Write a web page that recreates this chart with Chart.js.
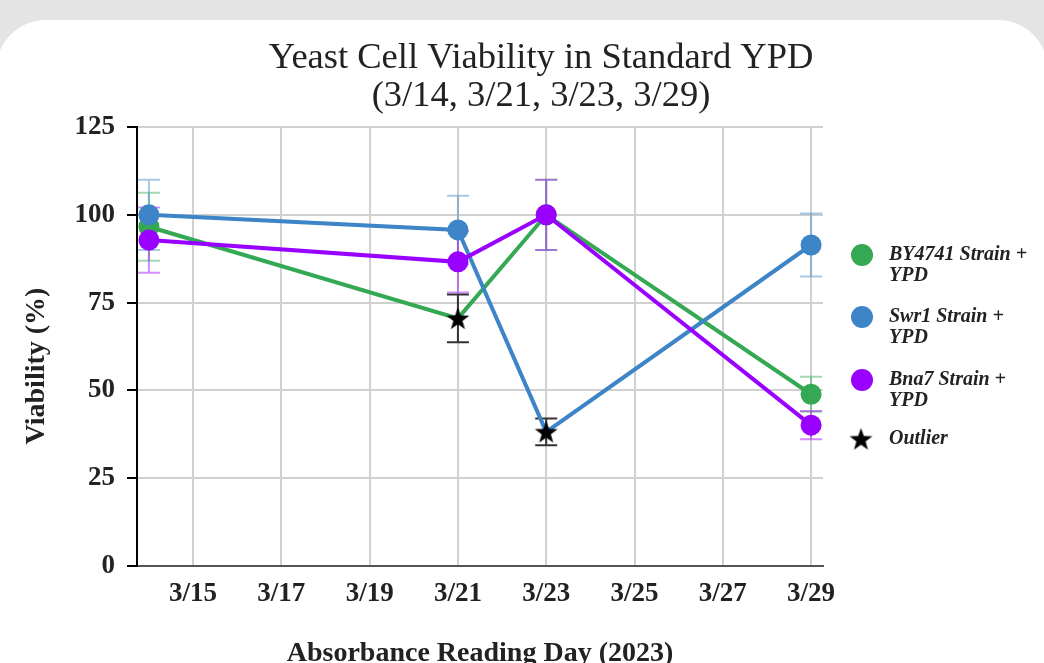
<!DOCTYPE html>
<html>
<head>
<meta charset="utf-8">
<script src="https://cdn.jsdelivr.net/npm/chart.js@4.4.1/dist/chart.umd.min.js"></script>
<style>
  html, body { margin: 0; padding: 0; background: #e4e4e4; overflow: hidden; }
  #card { position: absolute; left: -4px; top: 20px; width: 1052px; height: 720px; background: #fff; border-radius: 50px; }
  #chart { position: absolute; left: 0; top: 0; }
</style>
</head>
<body>
<div id="card"></div>
<canvas id="chart" width="1044" height="672"></canvas>
<script>
// reading days (March 2023)
const days = [14, 21, 23, 29];
const dayTicks = [15, 17, 19, 21, 23, 25, 27, 29];
const yTicks = [0, 25, 50, 75, 100, 125];

// viability (%) and error
const by4741 = [96.6, 70.5, 100, 48.9];
const by4741Err = [9.7, 6.8, 10, 5];
const swr1 = [100, 95.7, 38.2, 91.4];
const swr1Err = [10, 9.7, 3.8, 9];
const bna7 = [92.8, 86.6, 100, 40.1];
const bna7Err = [9.3, 8.7, 10, 4];

// which points are outliers
const by4741Out = [false, true, false, false];
const swr1Out = [false, false, true, false];
const bna7Out = [false, false, false, false];

const labels = [['BY4741 Strain +', 'YPD'], ['Swr1 Strain +', 'YPD'], ['Bna7 Strain +', 'YPD']];

const GREEN = '#34a853', BLUE = '#3d85c6', PURPLE = '#9900ff';
const FONT = "'Liberation Serif', 'Times New Roman', serif";

// filled star used for outliers
function makeStar(size, color) {
    const c = document.createElement('canvas');
    c.width = size; c.height = size;
    const g = c.getContext('2d');
    const cx = size / 2, cy = size / 2 + 1, ro = size / 2 - 0.5, ri = ro * 0.4;
    g.beginPath();
    for (let i = 0; i < 10; i++) {
        const r = i % 2 ? ri : ro;
        const a = -Math.PI / 2 + i * Math.PI / 5;
        g.lineTo(cx + r * Math.cos(a), cy + r * Math.sin(a));
    }
    g.closePath();
    g.fillStyle = color;
    g.fill();
    return c;
}
const star = makeStar(25, '#000');

const series = [
    { vals: by4741, err: by4741Err, out: by4741Out, color: GREEN, light: 'rgba(52,168,83,0.45)', order: 3 },
    { vals: swr1, err: swr1Err, out: swr1Out, color: BLUE, light: 'rgba(61,133,198,0.45)', order: 2 },
    { vals: bna7, err: bna7Err, out: bna7Out, color: PURPLE, light: 'rgba(153,0,255,0.45)', order: 1 }
];

const datasets = series.map((s, k) => ({
    label: labels[k].join(' '),
    data: s.vals.map((v, i) => ({ x: days[i], y: v })),
    borderColor: s.color,
    backgroundColor: s.color,
    borderWidth: 4,
    pointRadius: 10.5,
    pointBorderWidth: 0,
    pointStyle: s.out.map(o => o ? star : 'circle'),
    order: s.order,
    tension: 0
}));

const errorBars = {
    id: 'errorBars',
    beforeDatasetsDraw(chart) {
        const ctx = chart.ctx, xs = chart.scales.x, ys = chart.scales.y;
        ctx.save();
        ctx.lineWidth = 2;
        const draw = (s, i, color) => {
            const x = xs.getPixelForValue(days[i]);
            const t = ys.getPixelForValue(s.vals[i] + s.err[i]);
            const b = ys.getPixelForValue(s.vals[i] - s.err[i]);
            ctx.strokeStyle = color;
            ctx.beginPath();
            ctx.moveTo(x, t); ctx.lineTo(x, b);
            ctx.moveTo(x - 11, t); ctx.lineTo(x + 11, t);
            ctx.moveTo(x - 11, b); ctx.lineTo(x + 11, b);
            ctx.stroke();
        };
        series.forEach(s => s.vals.forEach((v, i) => { if (!s.out[i]) draw(s, i, s.light); }));
        series.forEach(s => s.vals.forEach((v, i) => { if (s.out[i]) draw(s, i, '#333'); }));
        ctx.restore();
    }
};

const extras = {
    id: 'extras',
    afterDraw(chart) {
        const ctx = chart.ctx;
        ctx.save();
        ctx.fillStyle = '#222';
        ctx.textAlign = 'center';
        ctx.textBaseline = 'middle';
        ctx.font = '36.5px ' + FONT;
        ctx.fillText('Yeast Cell Viability in Standard YPD', 541, 58);
        ctx.fillText('(3/14, 3/21, 3/23, 3/29)', 541, 96);

        // y axis title
        ctx.save();
        ctx.translate(37, 366);
        ctx.rotate(-Math.PI / 2);
        ctx.font = 'bold 28px ' + FONT;
        ctx.fillText('Viability (%)', 0, 0);
        ctx.restore();

        // legend
        ctx.textAlign = 'left';
        ctx.font = 'italic bold 20px ' + FONT;
        const ys = [255, 317, 380];
        series.forEach((s, k) => {
            ctx.fillStyle = s.color;
            ctx.beginPath();
            ctx.arc(862, ys[k], 11, 0, Math.PI * 2);
            ctx.fill();
            ctx.fillStyle = '#222';
            ctx.fillText(labels[k][0], 889, ys[k]);
            ctx.fillText(labels[k][1], 889, ys[k] + 21);
        });
        ctx.drawImage(star, 861 - 12.5, 439 - 12.5);
        ctx.fillStyle = '#222';
        ctx.fillText('Outlier', 889, 439);
        ctx.restore();
    }
};

new Chart(document.getElementById('chart'), {
    type: 'line',
    data: { datasets },
    plugins: [errorBars, extras],
    options: {
        responsive: false,
        animation: false,
        layout: { padding: { left: 0, top: 127, right: 221, bottom: 0 } },
        plugins: { legend: { display: false }, tooltip: { enabled: false } },
        scales: {
            x: {
                type: 'linear',
                min: 13.73,
                max: 29.27,
                afterFit: s => { s.height = 106; },
                afterBuildTicks: s => { s.ticks = dayTicks.map(v => ({ value: v })); },
                grid: { color: '#d0d0d0', lineWidth: 2, drawTicks: false },
                border: { color: '#555', width: 2 },
                ticks: {
                    padding: 12,
                    color: '#222',
                    font: { family: FONT, size: 27, weight: 'bold' },
                    callback: v => '3/' + v
                },
                title: {
                    display: true,
                    text: 'Absorbance Reading Day (2023)',
                    color: '#222',
                    font: { family: FONT, size: 28, weight: 'bold' },
                    padding: { top: 4, bottom: 1 }
                }
            },
            y: {
                min: 0,
                max: 125,
                afterFit: s => { s.width = 137; },
                afterBuildTicks: s => { s.ticks = yTicks.map(v => ({ value: v })); },
                grid: { color: '#d0d0d0', lineWidth: 2, tickColor: '#000', tickLength: 10, tickWidth: 2 },
                border: { color: '#000', width: 2 },
                ticks: {
                    padding: 12,
                    color: '#222',
                    font: { family: FONT, size: 27, weight: 'bold' }
                }
            }
        }
    }
});
</script>
</body>
</html>
